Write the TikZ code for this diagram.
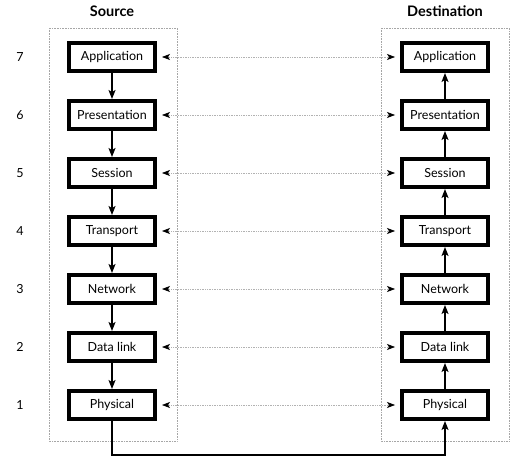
\documentclass[tikz,border=0pt]{standalone}
\usepackage{fontspec}
\setmainfont{Lato}
\usetikzlibrary{arrows.meta}
\begin{document}
\begin{tikzpicture}[x=1pt,y=-1pt,
  layer/.style={draw=black,line width=4pt,fill=white,minimum width=86pt,minimum height=28pt,inner sep=0pt,font=\fontsize{12.5}{14}\selectfont},
  frame/.style={draw=gray!70,densely dotted,line width=0.6pt},
  peer/.style={draw=gray!60,densely dotted,line width=0.7pt,{Stealth[black,length=8pt,width=6pt,inset=2pt]}-{Stealth[black,length=8pt,width=6pt,inset=2pt]},shorten <=5pt,shorten >=5pt},
  flow/.style={draw=black,line width=1.2pt,-{Stealth[length=9pt,width=7pt,inset=2pt]}},
  num/.style={font=\fontsize{12.5}{14}\selectfont},
  head/.style={font=\bfseries\fontsize{14.5}{16}\selectfont}]
\useasboundingbox (0,0) rectangle (521,468);
\draw[frame] (49,28) rectangle (177,441);
\draw[frame] (381,28) rectangle (509,441);
\node[head] (hs) at (112,11) {Source};
\node[head] (hd) at (445,11) {Destination};
\foreach \n/\t/\y in {7/Application/57,6/Presentation/115,5/Session/173,4/Transport/231,3/Network/289,2/Data link/347,1/Physical/405}{
  \node[num] (n\n) at (20,\y) {\n};
  \node[layer] (s\n) at (112,\y) {\t};
  \node[layer] (d\n) at (445,\y) {\t};
  \draw[peer] (s\n.east) -- (d\n.west);
}
\foreach \a/\b in {7/6,6/5,5/4,4/3,3/2,2/1}{
  \draw[flow] (s\a.south) -- (s\b.north);
  \draw[flow] (d\b.north) -- (d\a.south);
}
\coordinate (bl) at (112,455);
\coordinate (br) at (445,455);
\draw[flow] (s1.south) -- (bl) -- (br) -- (d1.south);
\end{tikzpicture}
\end{document}
